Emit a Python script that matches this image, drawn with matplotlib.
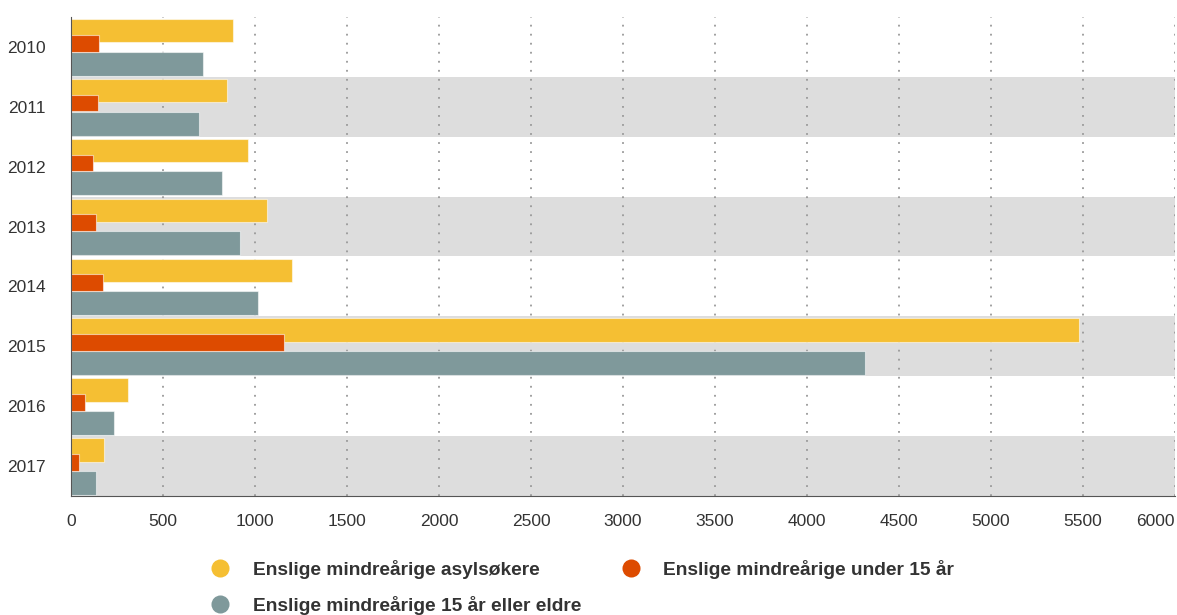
import numpy as np
import matplotlib
matplotlib.use("Agg")
import matplotlib.pyplot as plt
from matplotlib.lines import Line2D

plt.rcParams['font.family'] = ['Liberation Sans', 'DejaVu Sans']

years = ["2010", "2011", "2012", "2013", "2014", "2015", "2016", "2017"]
asylsokere = [880, 848, 960, 1063, 1199, 5480, 310, 179]
under15 = [154, 145, 120, 138, 172, 1160, 78, 43]
over15 = [719, 694, 822, 917, 1018, 4317, 232, 138]

labels = ["Enslige mindreårige asylsøkere",
          "Enslige mindreårige under 15 år",
          "Enslige mindreårige 15 år eller eldre"]
colors = ["#F5BF33", "#DD4B00", "#7F999B"]
x_ticks = list(range(0, 6001, 500))

fig = plt.figure(figsize=(11.77, 6.15), dpi=100)
ax = fig.add_axes([0.0603, 0.1935, 0.9380, 0.7789])

y = np.arange(len(years))

# alternating background bands
for i in y:
    if i % 2 == 1:
        ax.axhspan(i - 0.5, i + 0.5, color="#DDDDDD", lw=0, zorder=0)

ax.grid(axis='x', linestyle=(0, (1, 4)), color="#999999", lw=1.3, zorder=1)
ax.grid(axis='y', visible=False)

ec = (1, 1, 1, 0.55)
ax.barh(y - 0.27, asylsokere, height=0.39, color=colors[0], edgecolor=ec, lw=0.8, zorder=2)
ax.barh(y + 0.28, over15, height=0.40, color=colors[2], edgecolor=ec, lw=0.8, zorder=2)
ax.barh(y - 0.063, under15, height=0.28, color=colors[1], edgecolor=ec, lw=0.8, zorder=3)

ax.set_xlim(0, 6000)
ax.set_ylim(len(years) - 0.5, -0.5)
ax.set_yticks(y)
ax.set_yticklabels(years, fontsize=12.5, color="#333333")
ax.set_xticks(x_ticks)
ax.set_xticklabels([str(t) for t in x_ticks], fontsize=12.5, color="#333333")
ax.get_xticklabels()[-1].set_horizontalalignment('right')
ax.tick_params(axis='x', length=0, pad=13)
ax.tick_params(axis='y', length=0, pad=18)

for s in ['top', 'right']:
    ax.spines[s].set_visible(False)
ax.spines['left'].set_color("#555555")
ax.spines['bottom'].set_color("#555555")
ax.spines['left'].set_zorder(4)
ax.spines['bottom'].set_zorder(4)

handles = [Line2D([], [], marker='o', ls='', markersize=13, color=c, markeredgewidth=0)
           for c in colors]
order = [0, 2, 1]
fig.legend([handles[i] for i in order], [labels[i] for i in order],
           loc='upper left', bbox_to_anchor=(0.1796, 0.0895), ncol=2,
           frameon=False, borderpad=0, borderaxespad=0,
           handlelength=0.9, handletextpad=1.25, columnspacing=2.15,
           labelspacing=0.87, prop={'size': 13.8, 'weight': 'bold'},
           labelcolor="#333333")

fig.savefig("out.png", dpi=100)
